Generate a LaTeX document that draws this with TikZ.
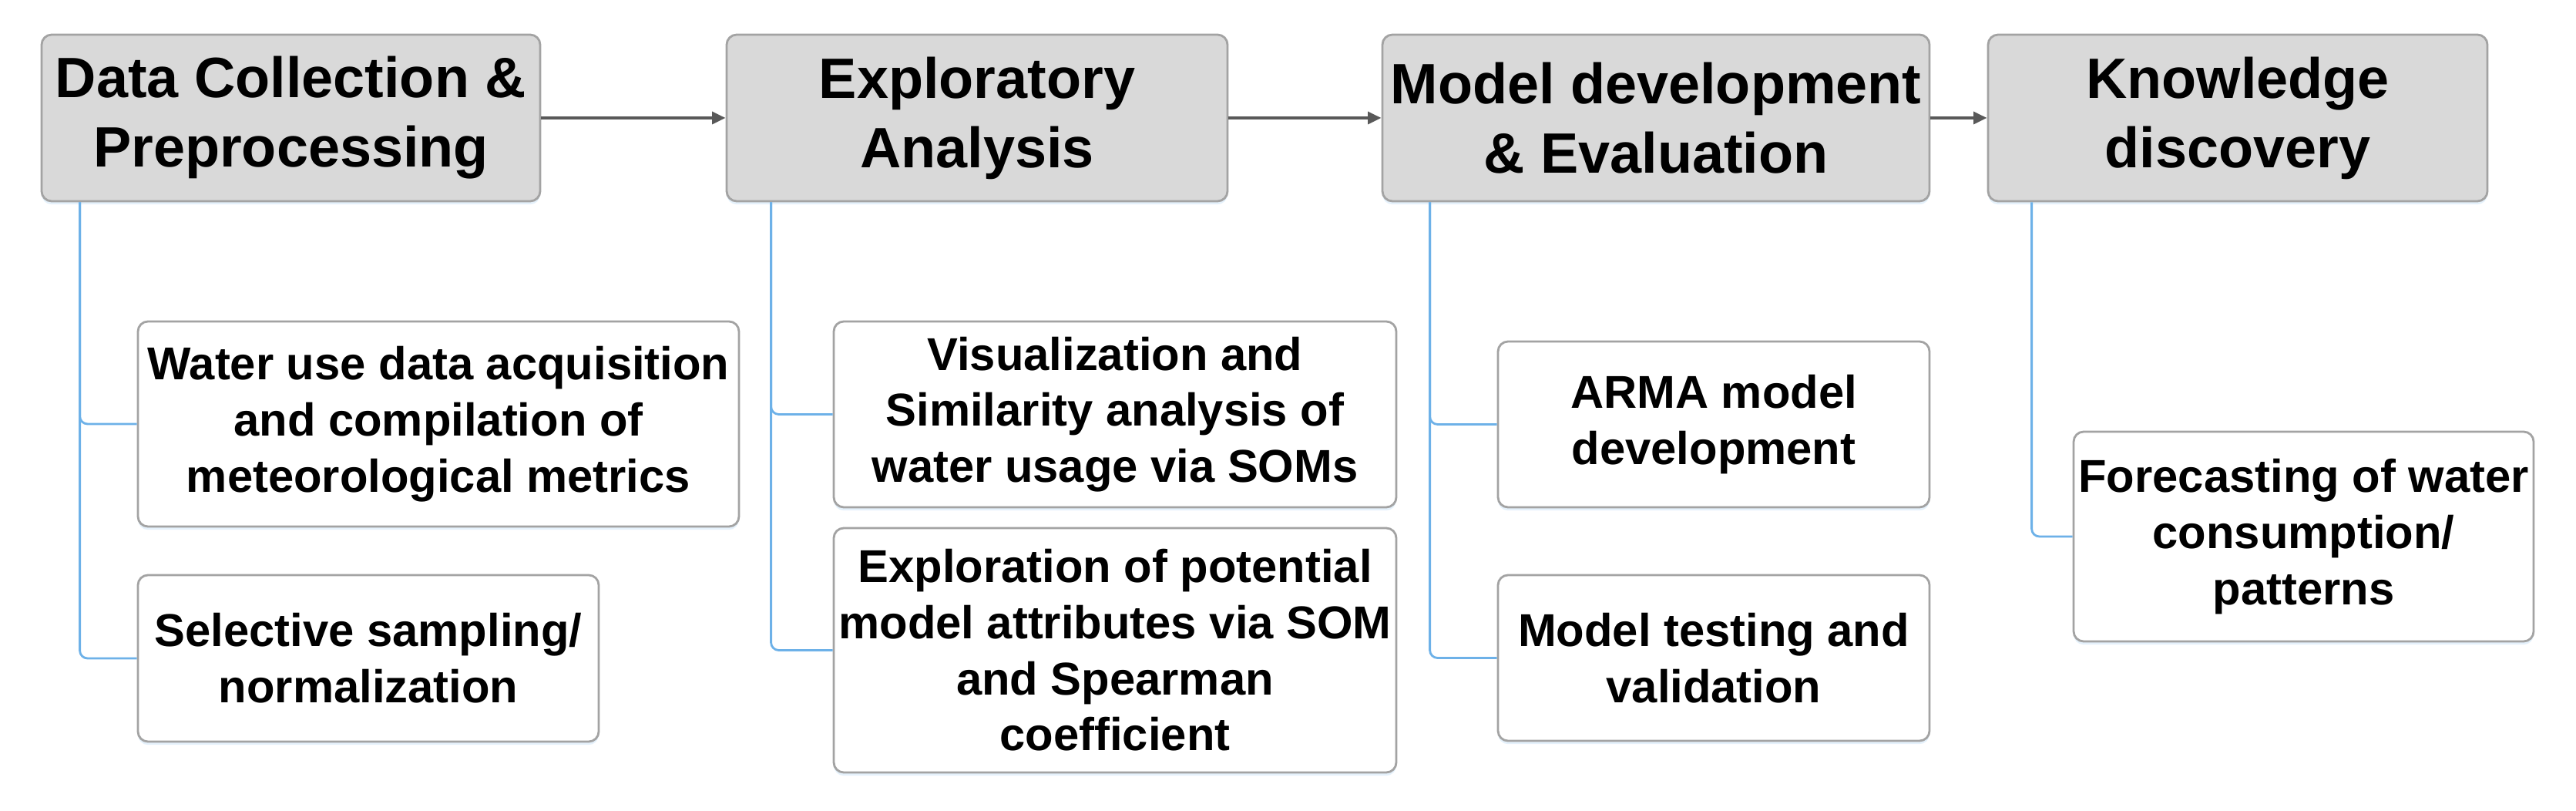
\documentclass[tikz,border=0pt]{standalone}
\usepackage{fontspec}
\setmainfont{Liberation Sans}
\usetikzlibrary{arrows.meta,shadows}
\definecolor{headfill}{HTML}{D9D9D9}
\definecolor{boxline}{HTML}{A3A3A3}
\definecolor{treeblue}{HTML}{6DB1E8}
\definecolor{flowgray}{HTML}{595959}

\begin{document}
\begin{tikzpicture}[
  shade/.style={drop shadow={shadow xshift=0pt,shadow yshift=-1.2pt,fill=treeblue!40,opacity=0.45}},
  head/.style={shade,draw=boxline,fill=headfill,rounded corners=1.3mm,line width=0.8pt,inner sep=0pt,
    align=center,minimum height=2.16cm,font=\fontsize{21}{25.6}\selectfont\bfseries},
  leaf/.style={shade,draw=boxline,fill=white,rounded corners=1.3mm,line width=0.8pt,inner sep=0pt,
    align=center,font=\fontsize{17}{20.7}\selectfont\bfseries},
  flow/.style={flowgray,line width=1.1pt,-{Triangle[length=5pt,width=4.5pt]}},
  branch/.style={treeblue,line width=0.8pt,rounded corners=1mm}]
\useasboundingbox (0,0) rectangle (33.43,-10.52);

% stages
\node [head,minimum width=6.47cm] (dc) at (3.775,-1.53) {Data Collection \&\\Preprocessing};
\node [head,minimum width=6.50cm] (ea) at (12.68,-1.53) {Exploratory\\Analysis};
\node [head,minimum width=7.10cm] (md) at (21.49,-1.53) {Model development\\\& Evaluation};
\node [head,minimum width=6.48cm] (kd) at (29.04,-1.53) {Knowledge\\discovery};

\draw [flow] (dc) -- (ea);
\draw [flow] (ea) -- (md);
\draw [flow] (md) -- (kd);

% tasks
\node [leaf,minimum width=7.80cm,minimum height=2.66cm] (dc1) at (5.69,-5.50) {Water use data acquisition\\and compilation of\\meteorological metrics};
\node [leaf,minimum width=5.98cm,minimum height=2.16cm] (dc2) at (4.78,-8.54) {Selective sampling/\\normalization};
\node [leaf,minimum width=7.30cm,minimum height=2.41cm] (ea1) at (14.47,-5.375) {Visualization and\\Similarity analysis of\\water usage via SOMs};
\node [leaf,minimum width=7.30cm,minimum height=3.17cm] (ea2) at (14.47,-8.435) {Exploration of potential\\model attributes via SOM\\and Spearman\\coefficient};
\node [leaf,minimum width=5.60cm,minimum height=2.15cm] (md1) at (22.24,-5.505) {ARMA model\\development};
\node [leaf,minimum width=5.60cm,minimum height=2.15cm] (md2) at (22.24,-8.535) {Model testing and\\validation};
\node [leaf,minimum width=5.97cm,minimum height=2.72cm] (kd1) at (29.895,-6.96) {Forecasting of water\\consumption/\\patterns};

\draw [branch] ([xshift=5.1mm]dc.south west) |- (dc1.west);
\draw [branch] ([xshift=5.1mm]dc.south west) |- (dc2.west);
\draw [branch] ([xshift=5.9mm]ea.south west) |- (ea1.west);
\draw [branch] ([xshift=5.9mm]ea.south west) |- (ea2.west);
\draw [branch] ([xshift=6.3mm]md.south west) |- (md1.west);
\draw [branch] ([xshift=6.3mm]md.south west) |- (md2.west);
\draw [branch] ([xshift=5.8mm]kd.south west) |- (kd1.west);
\end{tikzpicture}
\end{document}
